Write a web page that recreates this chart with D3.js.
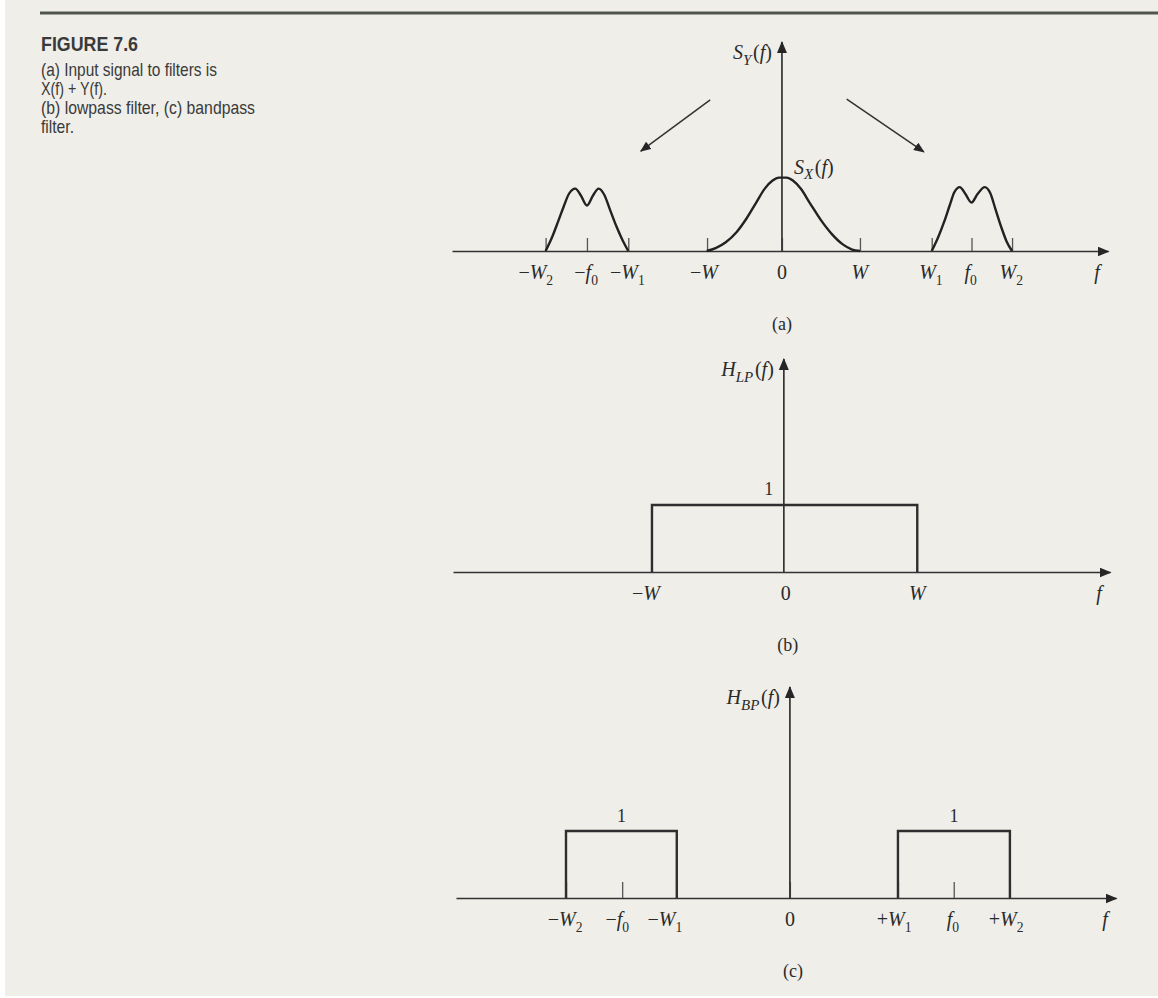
<!DOCTYPE html>
<html>
<head>
<meta charset="utf-8">
<script src="https://cdn.jsdelivr.net/npm/d3@7"></script>
<style>
  html, body { margin: 0; padding: 0; background: #ffffff; }
  svg { display: block; }
  .serif { font-family: "Liberation Serif", "Times New Roman", serif; fill: #2a2a2a; }
  .cap { font-family: "Liberation Sans Narrow", "Arial Narrow", "Liberation Sans", sans-serif; fill: #3a3a3a; }
</style>
</head>
<body>
<svg id="fig" width="1158" height="998"></svg>
<script>
// ---------------- data ----------------
// Panel (a): frequency axis, S_X(f) low-pass spectrum and the two S_Y(f) band humps
const fDomainA = [-4.23, 4.18];
const ticksA = [-3.03, -2.50, -1.97, -0.96, 0, 1.0, 1.92, 2.43, 2.95];
const tickLabelsA = ["−W_2", "−f_0", "−W_1", "−W", "0", "W", "W_1", "f_0", "W_2"];

const sxF = [-0.965, -0.85, -0.72, -0.58, -0.45, -0.33, -0.22, -0.12, -0.04, 0.06, 0.14, 0.24, 0.36, 0.50, 0.64, 0.78, 0.90, 1.0];
const sxS = [0, 0.04, 0.12, 0.26, 0.45, 0.66, 0.85, 0.96, 1.0, 1.0, 0.96, 0.85, 0.65, 0.42, 0.23, 0.09, 0.02, 0];

const syLeftF = [-3.03, -2.95, -2.87, -2.80, -2.73, -2.65, -2.58, -2.50, -2.42, -2.35, -2.28, -2.20, -2.12, -2.04, -1.97];
const syLeftS = [0, 0.18, 0.40, 0.60, 0.78, 0.85, 0.76, 0.62, 0.76, 0.85, 0.77, 0.55, 0.33, 0.14, 0];

const syRightF = [1.92, 2.00, 2.08, 2.15, 2.21, 2.28, 2.35, 2.43, 2.51, 2.60, 2.67, 2.74, 2.82, 2.88, 2.95];
const syRightS = [0, 0.18, 0.40, 0.62, 0.80, 0.87, 0.78, 0.66, 0.78, 0.87, 0.79, 0.56, 0.30, 0.13, 0];

// pointer arrows from the S_Y(f) label towards the band humps: [f0, s0, f1, s1]
const pointerArrows = [[-0.92, 2.06, -1.81, 1.36], [0.83, 2.07, 1.82, 1.35]];

// Panel (b): ideal lowpass filter
const fDomainB = [-4.24, 4.18];
const ticksB = [-1.69, 0, 1.71];
const tickLabelsB = ["−W", "0", "W"];
const lowpassBands = [[-1.69, 1.71]];
const lowpassGain = 1;

// Panel (c): ideal bandpass filter
const fDomainC = [-4.28, 4.18];
const ticksC = [-2.87, -2.15, -1.45, 0, 1.385, 2.10, 2.82];
const tickLabelsC = ["−W_2", "−f_0", "−W_1", "0", "+W_1", "f_0", "+W_2"];
const bandpassBands = [[-2.87, -1.45], [1.385, 2.82]];
const bandpassGain = 1;

// Caption
const captionTitle = "FIGURE 7.6";
const captionLines = [
  "(a) Input signal to filters is",
  "X(f) + Y(f).",
  "(b) lowpass filter, (c) bandpass",
  "filter."
];

// ---------------- drawing ----------------
const svg = d3.select("#fig");

// paper
svg.append("rect").attr("x", 5).attr("y", 0).attr("width", 1153).attr("height", 996).attr("fill", "#efeee9");
svg.append("line").attr("x1", 40).attr("x2", 1158).attr("y1", 13).attr("y2", 13)
  .attr("stroke", "#50564f").attr("stroke-width", 3);

// caption block
svg.append("text").attr("class", "cap").attr("x", 41).attr("y", 51)
  .attr("font-size", 21).attr("font-weight", "bold").attr("fill", "#262626")
  .attr("textLength", 97).attr("lengthAdjust", "spacingAndGlyphs")
  .text(captionTitle);
const capLens = [176, 66, 214, 33];
captionLines.forEach((t, i) => {
  svg.append("text").attr("class", "cap").attr("x", 41).attr("y", 76 + i * 19)
    .attr("font-size", 18.5)
    .attr("textLength", capLens[i]).attr("lengthAdjust", "spacingAndGlyphs")
    .text(t);
});

// arrowhead markers
const defs = svg.append("defs");
defs.append("marker").attr("id", "axisHead").attr("viewBox", "0 0 12 10")
  .attr("refX", 11).attr("refY", 5).attr("markerWidth", 12).attr("markerHeight", 10)
  .attr("markerUnits", "userSpaceOnUse").attr("orient", "auto")
  .append("path").attr("d", "M0,0 L12,5 L0,10 Z").attr("fill", "#262626");
defs.append("marker").attr("id", "ptrHead").attr("viewBox", "0 0 12 10")
  .attr("refX", 11).attr("refY", 5).attr("markerWidth", 11).attr("markerHeight", 9)
  .attr("markerUnits", "userSpaceOnUse").attr("orient", "auto")
  .append("path").attr("d", "M0,0 L12,5 L0,10 Z").attr("fill", "#262626");

// writes a label such as "−W_2" as italic letters with a subscript
function richText(sel, label, size, subScale) {
  const k = subScale || 0.68;
  sel.text(null);
  const re = /([A-Za-z])(?:_([A-Za-z0-9]+))?|([^A-Za-z_]+)/g;
  let m;
  while ((m = re.exec(label)) !== null) {
    if (m[3]) {
      sel.append("tspan").attr("font-style", "normal").text(m[3]);
    } else {
      sel.append("tspan").attr("font-style", "italic").text(m[1]);
      if (m[2]) {
        sel.append("tspan").attr("font-size", size * k).attr("dy", size * 0.28)
          .attr("font-style", /[A-Za-z]/.test(m[2]) ? "italic" : "normal").text(m[2]);
        sel.append("tspan").attr("dy", -size * 0.28).text("\u200A");
      }
    }
  }
}

function panel(cfg) {
  const g = svg.append("g");
  const x = d3.scaleLinear().domain(cfg.domain).range(cfg.xRange);
  const y = d3.scaleLinear().domain([0, 1]).range([cfg.axisY, cfg.axisY - cfg.unit]);

  // frequency axis with upward ticks
  const axis = d3.axisBottom(x).tickValues(cfg.ticks).tickSizeInner(-cfg.tickLen)
    .tickSizeOuter(0).tickPadding(0).tickFormat("");
  const ax = g.append("g").attr("transform", `translate(0,${cfg.axisY})`).call(axis);
  ax.select(".domain").attr("stroke", "#333").attr("stroke-width", 1.7).attr("marker-end", "url(#axisHead)");
  ax.selectAll(".tick line").attr("stroke", "#555").attr("stroke-width", 1.3);
  ax.selectAll(".tick text").remove();

  // tick labels
  cfg.ticks.forEach((v, i) => {
    const t = g.append("text").attr("class", "serif")
      .attr("x", x(v) + (cfg.nudge[i] || 0)).attr("y", cfg.axisY + 28)
      .attr("text-anchor", "middle").attr("font-size", 20);
    richText(t, cfg.labels[i], 20);
  });

  // axis name f
  g.append("text").attr("class", "serif").attr("x", cfg.xRange[1] - 11).attr("y", cfg.axisY + 28)
    .attr("text-anchor", "middle").attr("font-size", 20).attr("font-style", "italic").text("f");

  // vertical axis
  g.append("line").attr("x1", x(0)).attr("x2", x(0)).attr("y1", cfg.axisY).attr("y2", cfg.yTop)
    .attr("stroke", "#333").attr("stroke-width", 1.7).attr("marker-end", "url(#axisHead)");

  // vertical axis name
  const yl = g.append("text").attr("class", "serif").attr("x", x(0) - 10).attr("y", cfg.yTop + 17)
    .attr("text-anchor", "end").attr("font-size", 20);
  richText(yl, cfg.yName, 20, 0.75);
  yl.append("tspan").attr("font-style", "normal").text("(");
  yl.append("tspan").attr("font-style", "italic").text("f");
  yl.append("tspan").attr("font-style", "normal").text(")");

  // panel letter
  g.append("text").attr("class", "serif").attr("x", x(0) + cfg.letterDx).attr("y", cfg.axisY + 79)
    .attr("text-anchor", "middle").attr("font-size", 18).text(cfg.letter);

  return { g, x, y };
}

// ---- (a) ----
const A = panel({
  domain: fDomainA, xRange: [452, 1108], axisY: 251, unit: 73.4, yTop: 42, tickLen: 13,
  ticks: ticksA, labels: tickLabelsA, nudge: [-9, 0, 0, -3, 0, 0, 0, 0, 0],
  yName: "S_Y", letter: "(a)", letterDx: 0
});
const lineA = d3.line().x(d => A.x(d[0])).y(d => A.y(d[1])).curve(d3.curveMonotoneX);
[[sxF, sxS], [syLeftF, syLeftS], [syRightF, syRightS]].forEach(([fs, ss]) => {
  A.g.append("path").datum(fs.map((f, i) => [f, ss[i]])).attr("d", lineA)
    .attr("fill", "none").attr("stroke", "#222").attr("stroke-width", 2.4).attr("stroke-linejoin", "round");
});
pointerArrows.forEach(([f0, s0, f1, s1]) => {
  A.g.append("line").attr("x1", A.x(f0)).attr("y1", A.y(s0)).attr("x2", A.x(f1)).attr("y2", A.y(s1))
    .attr("stroke", "#333").attr("stroke-width", 1.5).attr("marker-end", "url(#ptrHead)");
});
const sxLabel = A.g.append("text").attr("class", "serif").attr("x", A.x(0) + 12).attr("y", A.y(1) - 4)
  .attr("font-size", 20);
richText(sxLabel, "S_X", 20, 0.75);
sxLabel.append("tspan").attr("font-style", "normal").text("(");
sxLabel.append("tspan").attr("font-style", "italic").text("f");
sxLabel.append("tspan").attr("font-style", "normal").text(")");

// ---- (b) ----
const B = panel({
  domain: fDomainB, xRange: [453, 1110], axisY: 572, unit: 67, yTop: 359, tickLen: 0,
  ticks: ticksB, labels: tickLabelsB, nudge: [-6, 2, 0],
  yName: "H_LP", letter: "(b)", letterDx: 4
});
lowpassBands.forEach(([lo, hi]) => {
  B.g.append("path")
    .attr("d", `M${B.x(lo)},${B.y(0)}V${B.y(lowpassGain)}H${B.x(hi)}V${B.y(0)}`)
    .attr("fill", "none").attr("stroke", "#2e2e2e").attr("stroke-width", 2.4);
});
B.g.append("text").attr("class", "serif").attr("x", B.x(0) - 15).attr("y", B.y(lowpassGain) - 10)
  .attr("text-anchor", "middle").attr("font-size", 18).text(String(lowpassGain));

// ---- (c) ----
const C = panel({
  domain: fDomainC, xRange: [456, 1116], axisY: 898, unit: 67, yTop: 687, tickLen: 16,
  ticks: ticksC, labels: tickLabelsC, nudge: [0, -4, -11, 0, -3, 0, -3],
  yName: "H_BP", letter: "(c)", letterDx: 3
});
bandpassBands.forEach(([lo, hi]) => {
  C.g.append("path")
    .attr("d", `M${C.x(lo)},${C.y(0)}V${C.y(bandpassGain)}H${C.x(hi)}V${C.y(0)}`)
    .attr("fill", "none").attr("stroke", "#2e2e2e").attr("stroke-width", 2.4);
  C.g.append("text").attr("class", "serif").attr("x", C.x((lo + hi) / 2)).attr("y", C.y(bandpassGain) - 9)
    .attr("text-anchor", "middle").attr("font-size", 18).text(String(bandpassGain));
});
</script>
</body>
</html>
